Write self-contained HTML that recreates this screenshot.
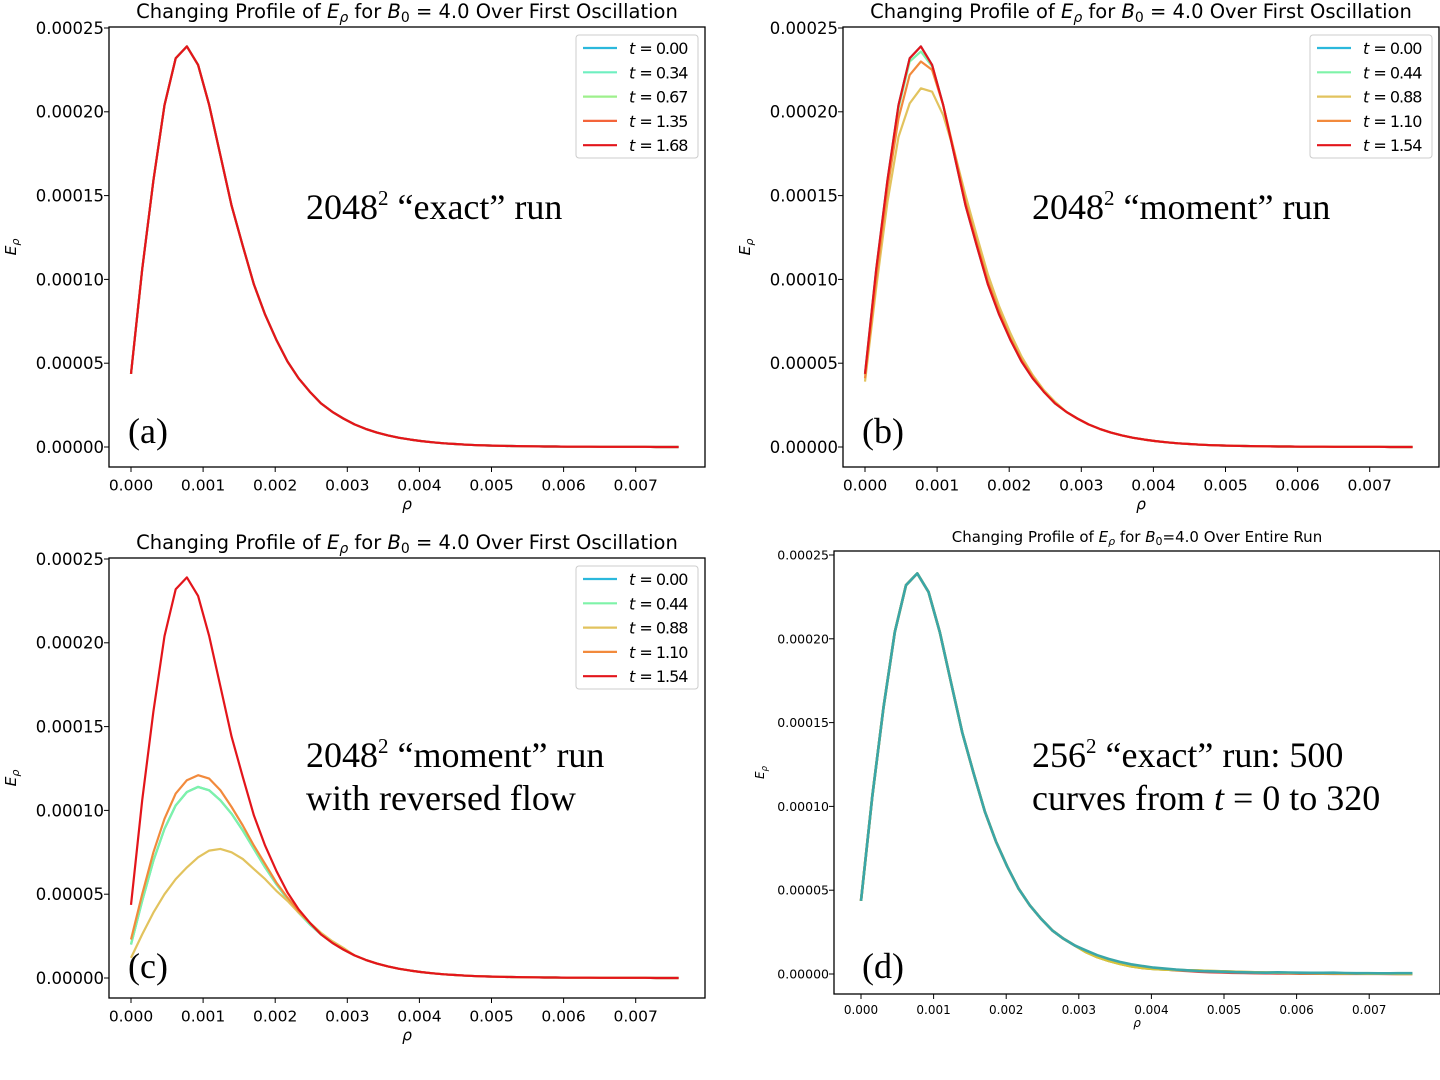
<!DOCTYPE html>
<html><head><meta charset="utf-8">
<style>
html,body{margin:0;padding:0;background:#fff;width:1440px;height:1080px;overflow:hidden}
svg text{font-family:"DejaVu Sans","Liberation Sans",sans-serif}
.ann{font-family:"Liberation Serif",serif;fill:#000}
</style></head>
<body>
<svg id="fig" width="1440" height="1080" viewBox="0 0 1440 1080" xmlns="http://www.w3.org/2000/svg"></svg>
<script>
// ---- data (E_rho in units of 1e-5, sampled every RHO_STEP) ----
const RHO_STEP = 0.000155;
const xTicks = [0.000,0.001,0.002,0.003,0.004,0.005,0.006,0.007];
const xTickLabels = ["0.000","0.001","0.002","0.003","0.004","0.005","0.006","0.007"];
const yTicks = [0,5,10,15,20,25];
const yTickLabels = ["0.00000","0.00005","0.00010","0.00015","0.00020","0.00025"];
const tail = [1.35,1.08,0.86,0.69,0.55,0.44,0.35,0.28,0.22,0.18,0.14,0.11,0.09,0.07,0.06,0.05,0.04,0.03,0.03,0.02,0.02,0.02,0.01,0.01,0.01,0.01,0.01,0.0,0.0,0.0];
const redHead = [4.36,10.6,15.9,20.4,23.2,23.9,22.8,20.4,17.4,14.4,12.0,9.7,7.9,6.4,5.1,4.1,3.3,2.6,2.1,1.7];
const bGreenHead = [4.3,10.4,15.7,20.2,23.0,23.6,22.7,20.4,17.5,14.5,12.1,9.8,8.0,6.5,5.2,4.2,3.3,2.6,2.1,1.7];
const bYellowHead = [3.9,9.5,14.6,18.5,20.5,21.4,21.2,19.8,17.6,15.0,12.6,10.3,8.4,6.8,5.4,4.3,3.4,2.7,2.1,1.7];
const bOrangeHead = [4.1,10.0,15.4,19.6,22.2,23.0,22.5,20.4,17.6,14.6,12.2,9.9,8.1,6.5,5.2,4.2,3.3,2.6,2.1,1.7];
const cYellowHead = [1.2,2.6,3.9,5.0,5.9,6.6,7.2,7.6,7.7,7.5,7.1,6.5,5.9,5.2,4.6,3.9,3.3,2.7,2.2,1.8];
const cGreenHead = [2.0,4.6,7.0,8.9,10.3,11.1,11.4,11.2,10.6,9.8,8.8,7.7,6.6,5.6,4.7,3.9,3.2,2.6,2.1,1.7];
const cOrangeHead = [2.3,5.0,7.5,9.5,11.0,11.8,12.1,11.9,11.2,10.2,9.1,7.9,6.8,5.7,4.8,4.0,3.3,2.6,2.1,1.7];
const dTealTail = [1.4,1.12,0.9,0.72,0.58,0.48,0.38,0.32,0.26,0.22,0.18,0.16,0.14,0.12,0.1,0.09,0.08,0.1,0.09,0.08,0.07,0.07,0.08,0.06,0.05,0.05,0.04,0.04,0.05,0.05];
const dYellowTail = [1.3,1.0,0.78,0.6,0.46,0.36,0.3,0.26,0.24,0.22,0.2,0.18,0.16,0.14,0.12,0.1,0.09,0.08,0.07,0.06,0.05,0.04,0.04,0.03,0.03,0.02,0.02,0.02,0.01,0.01];
const legendA = ["t = 0.00","t = 0.34","t = 0.67","t = 1.35","t = 1.68"];
const legendB = ["t = 0.00","t = 0.44","t = 0.88","t = 1.10","t = 1.54"];

const NS="http://www.w3.org/2000/svg";
const svg=document.getElementById('fig');
function el(tag,attrs,parent){const e=document.createElementNS(NS,tag);for(const k in attrs)e.setAttribute(k,attrs[k]);(parent||svg).appendChild(e);return e;}

function panel(p){
  const g=el('g',{});
  
  
  const sx=v=>p.x0+(v/0.001)*p.xs;
  const sy=v=>p.y0-(v/25)*(p.y0-p.y25);
  p.series.forEach((s,k)=>{
    const pts=s.vals.map((v,i)=>sx(i*RHO_STEP).toFixed(1)+','+sy(v).toFixed(1)).join(' ');
    const pl=el('polyline',{points:pts,fill:'none',stroke:s.color,'stroke-width':p.lw,'stroke-linejoin':'round'},g);
    
    
  });
  const fr=el('rect',{x:p.bx,y:p.by,width:p.bw,height:p.bh,fill:'none',stroke:'#000','stroke-width':1.3},g);
  
  
  xTicks.forEach((t,i)=>{
    const x=sx(t);
    el('line',{x1:x,x2:x,y1:p.by+p.bh,y2:p.by+p.bh+5,stroke:'#000'},g);
    const tx=el('text',{x:x,y:p.by+p.bh+p.fs+8,'font-size':p.fs,'text-anchor':'middle'},g);
    tx.textContent=xTickLabels[i];
    
    
  });
  yTicks.forEach((t,i)=>{
    const y=sy(t);
    el('line',{x1:p.bx-5,x2:p.bx,y1:y,y2:y,stroke:'#000'},g);
    const ty=el('text',{x:p.bx-5,y:y+p.yfs*0.36,'font-size':p.yfs,'text-anchor':'end'},g);
    ty.textContent=yTickLabels[i];
    
    
  });
  const xl=el('text',{x:p.bx+p.bw/2,y:p.by+p.bh+p.fs*2.75,'font-size':p.fs,'font-style':'italic','text-anchor':'middle'},g);
  xl.textContent='ρ';
  
  
  const yl=el('text',{x:0,y:0,'font-size':p.fs,'font-style':'italic','text-anchor':'middle',transform:`translate(${p.ylx},${p.by+p.bh/2}) rotate(-90)`},g);
  yl.innerHTML='E<tspan font-size="'+(p.fs*0.7)+'" dy="3">ρ</tspan>';
  
  
  const ti=el('text',{x:p.bx+p.bw/2,y:p.by-9,'font-size':p.tfs,'text-anchor':'middle'},g);
  ti.innerHTML=p.title;
  
  
  if(p.legend){
    const lx=p.bx+p.bw-129, ly=p.by+8;
    const lg=el('rect',{x:lx,y:ly,width:122,height:123,rx:3,fill:'#fff',stroke:'#ccc'},g);
    
    
    p.legend.forEach((lab,i)=>{
      const y=ly+13+i*24.3;
      const ln=el('line',{x1:lx+7,x2:lx+41,y1:y,y2:y,stroke:p.series[i].color,'stroke-width':2.2},g);
      
      
      const t=el('text',{x:lx+53,y:y+6,'font-size':16},g);
      t.innerHTML='<tspan font-style="italic">t</tspan><tspan letter-spacing="-1">'+lab.slice(1)+'</tspan>';
      
      
    });
  }
  p.ann.forEach(a=>{
    const t=el('text',{x:a[0],y:a[1],'font-size':a[3]||36,class:'ann'},g);
    t.innerHTML=a[2];
    
    
  });
}
const R=redHead.concat(tail);
const title1='Changing Profile of <tspan font-style="italic">E</tspan><tspan font-size="14" dy="4" font-style="italic">ρ</tspan><tspan dy="-4"> for </tspan><tspan font-style="italic">B</tspan><tspan font-size="14" dy="4">0</tspan><tspan dy="-4"> = 4.0 Over First Oscillation</tspan>';
const sup=(s)=>'<tspan font-size="21" dy="-14">'+s+'</tspan><tspan dy="14"> </tspan>';
panel({name:'panel-a',bx:109,by:27,bw:596,bh:440,x0:131,xs:72.1,y0:447,y25:28,lw:2.2,fs:15.5,yfs:16.5,tfs:19.5,ylx:16,title:title1,
  series:[{id:'t000',color:'#2bb8dc',vals:R},{id:'t034',color:'#6fefc0',vals:R},{id:'t067',color:'#9ef08c',vals:R},{id:'t135',color:'#f4643a',vals:R},{id:'t168',color:'#e3151b',vals:R}],
  legend:legendA,ann:[[306,219,'2048'+sup('2')+'“exact” run'],[128,443,'(a)']]});
panel({name:'panel-b',bx:843,by:27,bw:596,bh:440,x0:865,xs:72.1,y0:447,y25:28,lw:2.2,fs:15.5,yfs:16.5,tfs:19.5,ylx:750,title:title1,
  series:[{id:'t000',color:'#2bb8dc',vals:R},{id:'t044',color:'#7ef3a8',vals:bGreenHead.concat(tail)},{id:'t088',color:'#e2c35e',vals:bYellowHead.concat(tail)},{id:'t110',color:'#f28a3c',vals:bOrangeHead.concat(tail)},{id:'t154',color:'#e3151b',vals:R}],
  legend:legendB,ann:[[1032,219,'2048'+sup('2')+'“moment” run'],[862,443,'(b)']]});
panel({name:'panel-c',bx:109,by:558,bw:596,bh:440,x0:131,xs:72.1,y0:978,y25:559,lw:2.2,fs:15.5,yfs:16.5,tfs:19.5,ylx:16,title:title1,
  series:[{id:'t000',color:'#2bb8dc',vals:cGreenHead.concat(tail)},{id:'t044',color:'#7ef3a8',vals:cGreenHead.concat(tail)},{id:'t088',color:'#e2c35e',vals:cYellowHead.concat(tail)},{id:'t110',color:'#f28a3c',vals:cOrangeHead.concat(tail)},{id:'t154',color:'#e3151b',vals:R}],
  legend:legendB,ann:[[306,767,'2048'+sup('2')+'“moment” run'],[306,810,'with reversed flow'],[128,978,'(c)']]});
const title2='Changing Profile of <tspan font-style="italic">E</tspan><tspan font-size="11" dy="3" font-style="italic">ρ</tspan><tspan dy="-3"> for </tspan><tspan font-style="italic">B</tspan><tspan font-size="11" dy="3">0</tspan><tspan dy="-3">=4.0 Over Entire Run</tspan>';
panel({name:'panel-d',bx:834,by:551,bw:606,bh:443,x0:861,xs:72.6,y0:974,y25:555,lw:2.6,fs:12,yfs:12.5,tfs:15,ylx:764,title:title2,
  series:[{id:'early',color:'#d9534f',vals:R},{id:'mid-olive',color:'#9a9a3a',vals:redHead.concat(dYellowTail)},{id:'mid-yellow',color:'#d8c33a',vals:redHead.concat(dYellowTail)},{id:'late-teal',color:'#3aa6a8',vals:redHead.concat(dTealTail)}],
  legend:null,ann:[[1032,767,'256'+sup('2')+'“exact” run: 500'],[1032,810,'curves from <tspan font-style="italic">t</tspan> = 0 to 320'],[862,978,'(d)']]});
</script>
</body></html>
